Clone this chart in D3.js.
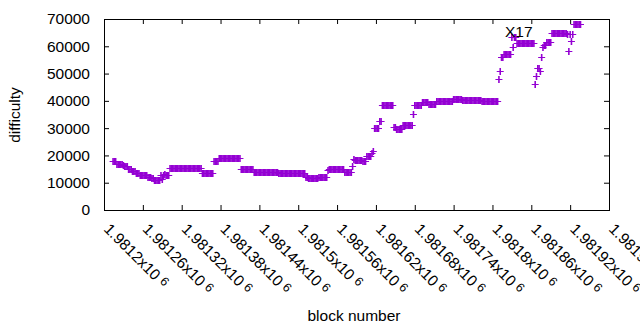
<!DOCTYPE html>
<html>
<head>
<meta charset="utf-8">
<script src="https://d3js.org/d3.v7.min.js"></script>
<style>
  body { margin: 0; background: #fff; }
  text { font-family: "Liberation Sans", Arial, sans-serif; font-size: 15.5px; fill: #000; }
  .axis path, .axis line { stroke: #000; }
</style>
</head>
<body>
<svg id="chart" width="640" height="330"></svg>
<script>
(function() {
  var xTickValues = [1981200, 1981260, 1981320, 1981380, 1981440, 1981500, 1981560,
                     1981620, 1981680, 1981740, 1981800, 1981860, 1981920, 1981980];
  var xTickLabels = ['1.9812', '1.98126', '1.98132', '1.98138', '1.98144', '1.9815', '1.98156',
                     '1.98162', '1.98168', '1.98174', '1.9818', '1.98186', '1.98192', '1.98198'];
  var yTickValues = [0, 10000, 20000, 30000, 40000, 50000, 60000, 70000];

  // one point every 2 blocks, starting at block 1981214
  var firstBlock = 1981214, blockStep = 2;
  var difficulty = [
    17800, 17800, 17800,
    16700, 16700, 16700, 16700, 16700, 16600,
    16100, 16100, 16100,
    15000, 15000, 15000,
    14400, 14400, 14400,
    13500, 13500, 13500,
    13000, 13000, 13000, 13000, 13000, 13000,
    12100, 12100, 12100,
    11600, 11600,
    11100, 11100, 11100, 11100, 11100,
    12900, 11300, 12900, 13100, 12900, 12900, 12900,
    15300, 15300, 15300,
    15500, 15500, 15500, 15500, 15500, 15500, 15500, 15500, 15500, 15500, 15500,
    15500, 15500, 15500, 15500, 15500, 15500, 15500, 15500, 15500, 15500, 15500,
    13400, 13400, 13400, 13400, 13400, 13400, 13400, 13400, 13400,
    17800, 17800, 17800, 17800,
    18900, 18900, 18900, 18900, 18900, 18900, 18900, 18900, 18900,
    18900, 18900, 18900, 18900, 18900, 18900, 18900, 18900,
    15200, 15200, 15200, 15200, 15200, 15200, 15200, 15200, 15200, 15200,
    14100, 14100, 14100, 14100, 14100, 14100,
    13750, 13750, 13750, 13750, 13750, 13750, 13750, 13750, 13750, 13750, 13750, 13750, 13750,
    13400, 13400, 13400, 13400, 13400, 13400, 13400, 13400, 13400, 13400, 13400,
    13400, 13400, 13400, 13400, 13400, 13400, 13400, 13400, 13400, 13400,
    12200, 12200,
    11650, 11650, 11650, 11650, 11650, 11650, 11650, 11650,
    12000, 12000, 12000, 12000, 12000, 12000, 12000, 14600,
    15050, 15050, 15050, 15050, 15050, 15050, 15050, 15050, 15050, 15050, 15050, 15050,
    14050, 14050, 14050, 14050, 14050, 14050,
    16000, 18600,
    18500, 18500, 18500, 18500, 18500, 18500,
    17900, 17900, 17900,
    19900, 19900, 19900, 19900,
    20800, 21500,
    30150, 30150, 30150, 30150,
    32500, 32500,
    38300, 38300, 38300, 38300, 38300, 38300, 38300, 38300, 38300,
    30400, 30400,
    29800, 29800, 29800, 29800, 29800,
    31100, 31100, 31100, 31100, 31100, 31100, 31100, 31100,
    35250,
    38300, 38300, 38300, 38300, 38300, 38300,
    39500, 39500, 39500, 39500, 39500,
    38900, 38900, 38900, 38900, 38900, 38900,
    39850, 39850, 39850, 39850, 39850, 39850, 39850, 39850, 39850, 39850, 39850, 39850, 39850,
    40850, 40850, 40850, 40850, 40850, 40850, 40850,
    40200, 40200, 40200, 40200, 40200, 40200, 40200, 40200, 40200, 40200, 40200, 40200, 40200, 40200, 40200,
    40100, 40100, 40100, 40100, 40100, 40100,
    39800, 39800, 39800, 39800, 39800, 39800, 39800,
    48100, 51000,
    55900, 55900,
    57000, 57000, 57000, 57000, 57000, 57000,
    63300, 59900, 63300, 63300,
    61100, 61100, 61100, 61100, 61100, 61100, 61100, 61100, 61100, 61100, 61100, 61100, 61100, 61100,
    46200, 48950, 52150, 52150, 50800, 56050, 59700,
    60500, 60500,
    61500, 61500, 61500, 61500,
    64800, 64800, 64800, 64800, 64800, 64800, 64800, 64800, 64800, 64800, 64800, 64800,
    64500, 58100, 64500, 62100, 64500,
    68050, 68050, 68050, 68050, 68050, 68050
  ];

  var points = difficulty.map(function(d, i) {
    return { block: firstBlock + i * blockStep, value: d };
  });

  var left = 104, right = 609, top = 19, bottom = 210;
  var svg = d3.select('#chart');

  var x = d3.scaleLinear().domain([1981200, 1981980]).range([left, right]);
  var y = d3.scaleLinear().domain([0, 70000]).range([bottom, top]);

  var addAxis = function(axis, transform) {
    return svg.append('g').attr('class', 'axis').attr('transform', transform).call(axis)
      .call(function(g) { g.select('.domain').remove(); });
  };

  addAxis(d3.axisLeft(y).tickValues(yTickValues).tickSize(-5).tickPadding(14).tickFormat(d3.format('d')),
          'translate(' + left + ',0)');
  addAxis(d3.axisRight(y).tickValues(yTickValues).tickSize(-5).tickFormat(''), 'translate(' + right + ',0)');
  addAxis(d3.axisBottom(x).tickValues(xTickValues).tickSize(-5).tickFormat(''), 'translate(0,' + bottom + ')');
  addAxis(d3.axisTop(x).tickValues(xTickValues).tickSize(-5).tickFormat(''), 'translate(0,' + top + ')');

  svg.selectAll('.axis text').style('font-size', '15.5px').style('font-family', '"Liberation Sans", Arial, sans-serif');

  svg.append('rect').attr('x', left + 0.5).attr('y', top + 0.5)
    .attr('width', right - left).attr('height', bottom - top)
    .attr('fill', 'none').attr('stroke', '#000');

  // rotated tick labels, gnuplot style  "1.9812x10^6"
  var labels = svg.selectAll('.x-tick-label').data(xTickValues).enter().append('text')
    .attr('class', 'x-tick-label')
    .attr('transform', function(d) {
      return 'translate(' + (x(d) - 1) + ',' + (bottom + 20) + ') rotate(45)';
    });
  labels.append('tspan').text(function(d, i) { return xTickLabels[i] + 'x10'; });
  labels.append('tspan').attr('dx', 4).attr('dy', -3).style('font-size', '12.5px').text('6');

  // "+" markers: horizontal arms and vertical stems drawn separately
  var px = function(d) { return x(d.block); };
  var py = function(d) { return Math.round(y(d.value)) + 0.5; };
  var marks = svg.append('g').attr('stroke', '#9400d3').attr('fill', 'none');
  marks.selectAll('.arm').data(points).enter().append('path').attr('class', 'arm')
    .attr('stroke-width', 1)
    .attr('d', function(d) { return 'M' + (px(d) - 3.5) + ',' + py(d) + 'h7'; });
  marks.selectAll('.stem').data(points).enter().append('path').attr('class', 'stem')
    .attr('stroke-width', 1.6)
    .attr('d', function(d) { return 'M' + px(d) + ',' + (py(d) - 3.5) + 'v7'; });

  svg.append('text').attr('x', 505).attr('y', 37).text('X17');

  svg.append('text').attr('x', 354).attr('y', 321).attr('text-anchor', 'middle').text('block number');
  svg.append('text').attr('transform', 'translate(20,115) rotate(-90)').attr('text-anchor', 'middle').text('difficulty');
}).call(this);
</script>
</body>
</html>
